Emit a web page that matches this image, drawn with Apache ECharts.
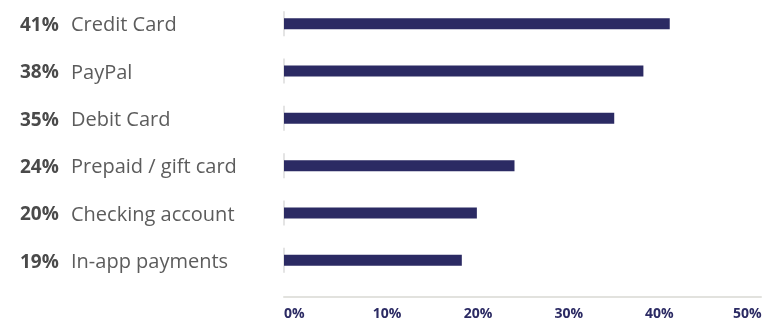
<!DOCTYPE html>
<html>
<head>
<meta charset="utf-8">
<script src="https://cdn.jsdelivr.net/npm/echarts@6/dist/echarts.min.js"></script>
<style>
html,body{margin:0;padding:0;background:#fff;}
#c{width:765px;height:324px;}
</style>
</head>
<body>
<div id="c"></div>
<script>
const categories = ['Credit Card', 'PayPal', 'Debit Card', 'Prepaid / gift card', 'Checking account', 'In-app payments'];
const shareLabels = ['41%', '38%', '35%', '24%', '20%', '19%'];
const barValues = [41, 38.2, 35.1, 24.5, 20.5, 18.9];
const tickValues = [0, 10, 20, 30, 40, 50];

const chart = echarts.init(document.getElementById('c'), null, {renderer: 'canvas'});
const font = '"Open Sans", "Noto Sans", sans-serif';
const tickRich = {
  t0: {padding: [0, 0, 0, 0]},
  t1: {padding: [0, 0, 0, 18]},
  t2: {padding: [0, 0, 0, 12]},
  t3: {padding: [0, 0, 0, 5]},
  t4: {padding: [0, 2, 0, 0]},
  t5: {padding: [0, 14, 0, 0]}
};
Object.keys(tickRich).forEach(k => Object.assign(tickRich[k], {
  fontFamily: font, fontSize: 14, fontWeight: 'bold', color: '#2b2a63'
}));

chart.setOption({
  animation: false,
  grid: {left: 284, top: -3.5, width: 477, height: 287.5, containLabel: false},
  xAxis: {
    type: 'value', min: 0, max: 50.7, interval: 10,
    offset: 13,
    axisLine: {show: true, lineStyle: {color: '#e2e2de', width: 2}},
    axisTick: {show: false},
    splitLine: {show: false},
    axisLabel: {
      margin: 10,
      alignMinLabel: 'left',
      showMaxLabel: false,
      formatter: function (v) {
        const i = tickValues.indexOf(Math.round(v));
        if (i < 0) return '';
        return '{t' + i + '|' + v + '%}';
      },
      rich: tickRich
    }
  },
  yAxis: {
    type: 'category', data: categories, inverse: true,
    axisLine: {show: false}, axisTick: {show: false}, splitLine: {show: false},
    axisLabel: {
      align: 'left', margin: 264,
      formatter: function (v, i) { return '{p|' + shareLabels[i] + '}{n|' + v + '}'; },
      rich: {
        p: {fontFamily: font, fontSize: 19, fontWeight: 'bold', color: '#4a4a4a', width: 51, padding: [4, 0, 0, 0]},
        n: {fontFamily: font, fontSize: 20, color: '#5c5c5c', padding: [4, 0, 0, 0]}
      }
    }
  },
  series: [
    {
      type: 'scatter', data: categories.map(() => 0), symbol: 'rect', symbolSize: [2, 25],
      itemStyle: {color: '#dddddd'}, z: 1, silent: true
    },
    {
      type: 'bar', data: barValues, barWidth: 11, z: 2,
      itemStyle: {color: '#2b2a63'}, silent: true
    }
  ]
});
</script>
</body>
</html>
